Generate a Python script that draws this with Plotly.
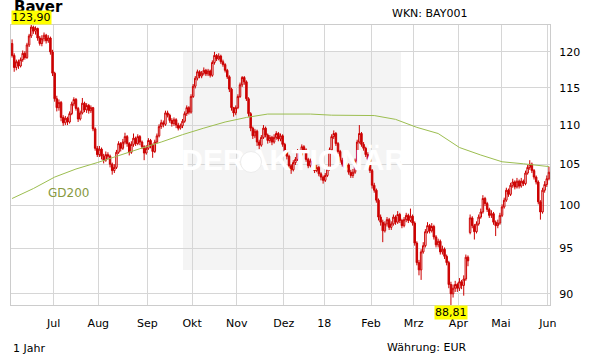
import math
import pandas as pd
import plotly.graph_objects as go

# ---------------- data ----------------
holidays = ["2017-10-31", "2017-12-25", "2017-12-26", "2018-01-01",
            "2018-03-30", "2018-04-02", "2018-05-01"]
trading_days = [d for d in pd.bdate_range("2017-06-05", "2018-06-01")
                if d.strftime("%Y-%m-%d") not in holidays]

opens = [
    121.2, 119.5, 117.8, 118.6, 118.0, 118.9, 119.8, 119.2, 121.0, 122.3,
    123.6, 123.0, 123.4, 122.0, 121.2, 121.9, 122.4, 121.6, 122.0, 120.0,
    117.0, 113.5, 112.3, 113.0, 111.0, 110.3, 110.9, 110.4, 111.5, 112.8,
    113.4, 112.2, 110.8, 111.6, 112.9, 112.0, 112.6, 111.9, 112.3, 109.5,
    107.0, 106.2, 106.9, 106.0, 105.5, 106.2, 106.0, 105.0, 104.2, 104.6,
    106.5, 107.6, 107.0, 107.8, 108.5, 107.6, 106.5, 107.5, 108.3, 107.6,
    108.5, 107.8, 107.2, 106.4, 107.0, 108.0, 107.4, 106.6, 107.8, 108.6,
    109.8, 110.3, 110.1, 111.6, 111.3, 110.6, 110.2, 110.7, 110.0, 109.6,
    109.9, 110.5, 111.5, 112.3, 111.7, 113.8, 115.2, 116.3, 117.2, 116.6,
    117.0, 117.4, 116.9, 117.3, 116.7, 118.5, 119.5, 119.0, 119.4, 118.6,
    118.2, 117.4, 116.5, 114.8, 112.3, 111.6, 112.3, 113.8, 115.4,
    116.4, 115.8, 113.5, 111.5, 109.6, 108.6, 109.2, 107.8, 107.4, 108.4,
    109.6, 108.7, 108.0, 108.4, 107.8, 108.4, 108.9, 108.2, 108.6, 107.5,
    106.6, 106.0, 104.8, 104.3, 105.2, 105.6, 106.6, 106.2, 107.2, 106.8,
    105.6, 104.8, 105.4, 104.9, 104.2, 104.6, 103.8, 103.4, 103.0, 103.6,
    104.4, 106.8, 108.5, 108.9, 107.6, 106.6, 105.5, 105.0, 104.6, 104.9,
    104.0, 103.6, 104.0, 105.4, 107.8, 108.9, 107.5, 107.0, 106.2, 105.6,
    104.2, 102.4, 101.8, 100.6, 98.6, 98.0, 97.0, 97.8, 98.3, 97.4,
    97.8, 98.6, 98.0, 98.9, 98.2, 97.6, 98.3, 98.8, 98.2, 98.7,
    97.9, 95.6, 93.4, 92.6, 94.6, 95.3, 96.9, 97.6, 97.0, 97.5,
    96.3, 95.4, 95.8, 94.6, 94.9, 94.1, 93.4, 91.0, 90.0, 90.6,
    91.0, 90.6, 91.3, 90.9, 91.6, 94.0, 96.8, 98.5, 97.6, 96.9,
    97.8, 98.6, 99.2, 100.8, 100.2, 99.5, 98.8, 99.0, 98.0, 97.6,
    97.9, 98.8, 99.8, 100.6, 101.8, 101.3, 102.4, 102.8, 102.2, 102.9,
    102.3, 102.9, 102.6, 103.9, 104.6, 105.0, 104.2, 103.4, 102.8, 100.4,
    99.2, 101.8, 102.5, 103.2,
]
highs = [
    121.8, 119.8, 118.9, 118.9, 119.2, 120.2, 120.1, 121.3, 122.6, 123.9,
    123.8, 123.7, 123.5, 122.3, 122.4, 122.8, 122.6, 122.4, 122.2, 120.3,
    117.2, 113.9, 113.4, 113.2, 111.3, 111.2, 111.1, 111.8, 113.1, 113.7,
    113.6, 112.4, 111.9, 113.6, 113.1, 112.9, 112.8, 112.6, 112.4, 109.7,
    107.3, 107.3, 107.1, 106.3, 106.6, 106.5, 106.2, 105.2, 105.0, 106.8,
    107.9, 107.8, 108.2, 109.0, 108.7, 107.8, 107.9, 108.9, 108.5, 108.8,
    108.7, 108.0, 107.4, 107.4, 108.3, 108.2, 107.6, 108.1, 108.9, 110.1,
    110.7, 110.6, 111.9, 111.9, 111.5, 110.9, 111.0, 110.9, 110.3, 110.2,
    110.8, 111.8, 112.6, 112.5, 114.1, 115.5, 116.6, 117.5, 117.4, 117.3,
    117.8, 117.6, 117.6, 117.5, 118.8, 120.0, 119.7, 119.8, 119.6, 118.9,
    118.4, 117.6, 116.7, 115.0, 112.4, 112.6, 114.1, 115.7, 116.6,
    116.6, 116.0, 113.7, 111.7, 109.8, 109.5, 109.4, 108.1, 108.7, 110.0,
    109.8, 108.9, 108.7, 108.6, 108.8, 109.2, 109.1, 108.9, 108.8, 107.7,
    106.8, 106.2, 105.0, 105.5, 105.9, 106.9, 106.8, 107.5, 107.4, 107.0,
    105.8, 105.7, 105.6, 105.1, 104.9, 104.8, 104.0, 103.6, 103.9, 104.7,
    107.1, 108.8, 109.3, 109.1, 107.8, 106.8, 105.8, 105.3, 105.2, 105.1,
    104.3, 104.4, 105.7, 108.1, 110.0, 109.1, 107.8, 107.2, 106.5, 105.8,
    104.4, 102.7, 102.0, 100.8, 98.9, 98.3, 98.1, 98.6, 98.5, 98.1,
    98.9, 98.8, 99.3, 99.1, 98.4, 98.6, 99.1, 99.0, 99.6, 98.9,
    98.1, 95.8, 93.7, 94.9, 95.7, 97.2, 98.0, 97.8, 97.9, 97.7,
    96.5, 96.1, 96.0, 95.3, 95.1, 94.3, 93.6, 91.3, 91.0, 91.4,
    91.2, 91.7, 91.5, 92.0, 94.3, 94.2, 98.9, 98.7, 97.8, 98.1,
    98.9, 99.6, 101.2, 101.0, 100.4, 99.7, 99.4, 99.2, 98.2, 98.3,
    99.1, 100.1, 100.9, 102.1, 102.0, 102.7, 103.2, 103.0, 103.3, 103.1,
    103.3, 103.1, 104.2, 104.9, 105.5, 105.2, 104.4, 103.6, 103.0, 100.6,
    102.1, 102.9, 103.6, 104.7,
]
lows = [
    119.2, 117.2, 117.4, 117.6, 117.8, 118.6, 118.9, 119.0, 120.7, 122.0,
    122.6, 122.5, 121.6, 120.9, 120.8, 121.5, 121.2, 121.3, 119.6, 116.6,
    113.1, 111.8, 111.9, 110.5, 109.9, 110.0, 110.0, 110.2, 111.3, 112.5,
    111.9, 110.4, 110.6, 111.4, 111.7, 111.6, 111.5, 111.6, 109.2, 106.7,
    105.9, 105.9, 105.6, 105.1, 105.3, 105.6, 104.6, 103.7, 103.9, 104.4,
    106.3, 106.6, 106.8, 107.5, 107.2, 106.1, 106.3, 107.2, 107.3, 107.4,
    107.4, 106.9, 105.5, 106.2, 106.8, 107.0, 105.8, 106.4, 107.6, 108.4,
    109.5, 109.7, 109.9, 111.0, 110.3, 109.8, 109.9, 109.6, 109.3, 109.4,
    109.6, 110.3, 111.2, 111.4, 111.5, 113.6, 114.9, 116.0, 116.3, 116.3,
    116.7, 116.6, 116.6, 116.4, 116.5, 118.2, 118.7, 118.8, 118.3, 117.9,
    117.1, 116.2, 114.4, 111.9, 111.1, 111.3, 112.1, 113.6, 115.1,
    115.4, 113.2, 111.1, 109.2, 108.2, 108.3, 107.3, 106.9, 107.2, 108.2,
    108.4, 107.6, 107.7, 107.4, 107.6, 108.1, 107.9, 107.9, 107.2, 106.3,
    105.6, 104.4, 103.8, 104.1, 104.9, 105.4, 105.9, 106.0, 106.5, 105.3,
    104.5, 104.6, 104.6, 103.9, 104.0, 103.5, 103.0, 102.6, 102.8, 103.4,
    104.2, 106.6, 108.2, 107.3, 106.3, 105.2, 104.7, 104.3, 104.3, 103.7,
    103.3, 103.3, 103.8, 105.2, 107.6, 107.2, 106.7, 105.9, 105.3, 103.9,
    102.0, 101.5, 100.3, 98.2, 97.6, 95.7, 96.8, 97.5, 97.1, 97.1,
    97.6, 97.7, 97.8, 97.9, 97.3, 97.4, 98.0, 97.9, 98.0, 97.6,
    95.3, 93.1, 92.0, 91.5, 94.4, 95.1, 96.7, 96.7, 96.8, 96.0,
    95.1, 95.1, 94.3, 94.3, 93.8, 93.1, 90.6, 88.81, 89.6, 90.2,
    90.2, 90.3, 90.5, 89.8, 91.4, 93.0, 96.6, 97.3, 96.0, 96.7,
    97.6, 98.4, 99.0, 99.9, 99.2, 98.5, 98.5, 97.7, 96.4, 97.3,
    97.7, 98.6, 99.6, 100.4, 101.0, 101.1, 102.1, 101.9, 102.0, 102.0,
    102.1, 102.3, 102.4, 103.7, 104.3, 103.9, 103.1, 102.5, 100.1, 98.3,
    99.0, 101.5, 102.2, 103.0,
]
closes = [
    119.5, 117.8, 118.6, 118.0, 118.9, 119.8, 119.2, 121.0, 122.3, 123.6,
    123.0, 123.4, 122.0, 121.2, 121.9, 122.4, 121.6, 122.0, 120.0, 117.0,
    113.5, 112.3, 113.0, 111.0, 110.3, 110.9, 110.4, 111.5, 112.8, 113.4,
    112.2, 110.8, 111.6, 112.9, 112.0, 112.6, 111.9, 112.3, 109.5, 107.0,
    106.2, 106.9, 106.0, 105.5, 106.2, 106.0, 105.0, 104.2, 104.6, 106.5,
    107.6, 107.0, 107.8, 108.5, 107.6, 106.5, 107.5, 108.3, 107.6, 108.5,
    107.8, 107.2, 106.4, 107.0, 108.0, 107.4, 106.6, 107.8, 108.6, 109.8,
    110.3, 110.1, 111.6, 111.3, 110.6, 110.2, 110.7, 110.0, 109.6, 109.9,
    110.5, 111.5, 112.3, 111.7, 113.8, 115.2, 116.3, 117.2, 116.6, 117.0,
    117.4, 116.9, 117.3, 116.7, 118.5, 119.5, 119.0, 119.4, 118.6, 118.2,
    117.4, 116.5, 114.8, 112.3, 111.6, 112.3, 113.8, 115.4, 116.4,
    115.8, 113.5, 111.5, 109.6, 108.6, 109.2, 107.8, 107.4, 108.4, 109.6,
    108.7, 108.0, 108.4, 107.8, 108.4, 108.9, 108.2, 108.6, 107.5, 106.6,
    106.0, 104.8, 104.3, 105.2, 105.6, 106.6, 106.2, 107.2, 106.8, 105.6,
    104.8, 105.4, 104.9, 104.2, 104.6, 103.8, 103.4, 103.0, 103.6, 104.4,
    106.8, 108.5, 108.9, 107.6, 106.6, 105.5, 105.0, 104.6, 104.9, 104.0,
    103.6, 104.0, 105.4, 107.8, 108.9, 107.5, 107.0, 106.2, 105.6, 104.2,
    102.4, 101.8, 100.6, 98.6, 98.0, 97.0, 97.8, 98.3, 97.4, 97.8,
    98.6, 98.0, 98.9, 98.2, 97.6, 98.3, 98.8, 98.2, 98.7, 97.9,
    95.6, 93.4, 92.6, 94.6, 95.3, 96.9, 97.6, 97.0, 97.5, 96.3,
    95.4, 95.8, 94.6, 94.9, 94.1, 93.4, 91.0, 90.0, 90.6, 91.0,
    90.6, 91.3, 90.9, 91.6, 94.0, 93.6, 98.5, 97.6, 96.9, 97.8,
    98.6, 99.2, 100.8, 100.2, 99.5, 98.8, 99.0, 98.0, 97.6, 97.9,
    98.8, 99.8, 100.6, 101.8, 101.3, 102.4, 102.8, 102.2, 102.9, 102.3,
    102.9, 102.6, 103.9, 104.6, 105.0, 104.2, 103.4, 102.8, 100.4, 99.2,
    101.8, 102.5, 103.2, 104.0,
]

gd200_days = [0, 10, 20, 30, 40, 50, 60, 70, 80, 90, 100, 110, 120,
              130, 140, 150, 160, 170, 180, 190, 200, 210, 220, 230, 240, 252]
gd200_values = [100.8, 102.0, 103.4, 104.4, 105.2, 106.1, 106.95, 107.8,
                108.75, 109.6, 110.4, 111.0, 111.45, 111.45, 111.45, 111.3,
                111.3, 111.25, 110.75, 109.7, 108.9, 107.1, 106.15, 105.3,
                105.05, 104.7]

month_labels = ["Jul", "Aug", "Sep", "Okt", "Nov", "Dez", "18",
                "Feb", "Mrz", "Apr", "Mai", "Jun"]
y_ticks = [90, 95, 100, 105, 110, 115, 120]

title_text = "Bayer"
wkn_text = "WKN: BAY001"
period_text = "1 Jahr"
currency_text = "Währung: EUR"

# ---------------- derived ----------------
n = len(trading_days)
xs = list(range(n))
month_start = []
prev = None
for i, d in enumerate(trading_days):
    key = (d.year, d.month)
    if prev is not None and key != prev:
        month_start.append(i - 0.5)
    prev = key

y_max = max(highs)
y_min = min(lows)
i_max = highs.index(y_max)
i_min = lows.index(y_min)

def fmt(v):
    return f"{v:.2f}".replace(".", ",")

RED = "#cc0000"
GRID = "#d6d6d6"
FONT = "DejaVu Sans, Verdana, sans-serif"

W, H = 611, 364
L, R, T, B = 11, 61, 25, 59
PW, PH = W - L - R, H - T - B
x_range = [-0.5, n - 0.5]
y_range = [math.log10(y_min), math.log10(y_max)]

def px_to_x(px):
    return x_range[0] + (px - L) / PW * (x_range[1] - x_range[0])

def py_to_y(py):
    frac = (T + PH - py) / PH
    return 10 ** (y_range[0] + frac * (y_range[1] - y_range[0]))

def pap_x(px):
    return (px - L) / PW

def pap_y(py):
    return (T + PH - py) / PH

fig = go.Figure()

# watermark (drawn in trace layer so candles sit on top)
fig.add_trace(go.Scatter(
    x=[px_to_x(213), px_to_x(327)], y=[py_to_y(162), py_to_y(162)],
    mode="text", text=["<b>DER</b>", "<b>AKTIONÄR</b>"],
    textfont=dict(color="#ffffff", size=30,
                  family="Liberation Sans Narrow, Liberation Sans, Arial"),
    hoverinfo="skip", showlegend=False))
fig.add_trace(go.Scatter(
    x=[px_to_x(251)], y=[py_to_y(162)], mode="markers",
    marker=dict(symbol="circle", size=21, color="#ffffff",
                line=dict(color="#ececec", width=1)),
    hoverinfo="skip", showlegend=False))

fig.add_trace(go.Candlestick(
    x=xs, open=opens, high=highs, low=lows, close=closes,
    increasing=dict(line=dict(color=RED, width=1), fillcolor="rgba(0,0,0,0)"),
    decreasing=dict(line=dict(color=RED, width=1), fillcolor=RED),
    whiskerwidth=0, showlegend=False, hoverinfo="skip"))

fig.add_trace(go.Scatter(
    x=gd200_days, y=gd200_values, mode="lines",
    line=dict(color="#9cbe50", width=1), showlegend=False,
    hoverinfo="skip"))

# light grey panel behind watermark
fig.add_shape(type="rect", xref="paper", yref="paper",
              x0=pap_x(183), x1=pap_x(401), y0=pap_y(270), y1=pap_y(52),
              fillcolor="#f4f4f4", line_width=0, layer="below")

annotations = [
    dict(text=f"<b>{title_text}</b>", xref="paper", yref="paper",
         x=pap_x(12), y=pap_y(-4), xanchor="left", yanchor="top",
         showarrow=False, font=dict(family=FONT, size=15, color="#000")),
    dict(text=fmt(y_max), xref="paper", yref="paper",
         x=pap_x(11), y=1, xanchor="left", yanchor="bottom",
         showarrow=False, bgcolor="#ffff00", borderpad=0,
         font=dict(family=FONT, size=11, color="#000")),
    dict(text=fmt(y_min), xref="x", yref="paper",
         x=i_min, y=0, xanchor="center", yanchor="top",
         showarrow=False, bgcolor="#ffff00", borderpad=0,
         font=dict(family=FONT, size=11, color="#000")),
    dict(text=wkn_text, xref="paper", yref="paper",
         x=pap_x(469), y=pap_y(14), xanchor="right", yanchor="middle",
         showarrow=False, font=dict(family=FONT, size=11, color="#000")),
    dict(text=period_text, xref="paper", yref="paper",
         x=pap_x(11), y=pap_y(348), xanchor="left", yanchor="middle",
         showarrow=False, font=dict(family=FONT, size=11, color="#000")),
    dict(text=currency_text, xref="paper", yref="paper",
         x=pap_x(469), y=pap_y(347), xanchor="right", yanchor="middle",
         showarrow=False, font=dict(family=FONT, size=11, color="#000")),
    dict(text="GD200", xref="paper", yref="paper",
         x=pap_x(46), y=pap_y(193), xanchor="left", yanchor="middle",
         showarrow=False, font=dict(family=FONT, size=12, color="#87993f")),
]

fig.update_layout(
    width=W, height=H,
    margin=dict(l=L, r=R, t=T, b=B, pad=0),
    paper_bgcolor="#ffffff", plot_bgcolor="#ffffff",
    showlegend=False, annotations=annotations,
    boxgap=0,
    font=dict(family=FONT, size=11, color="#000"),
    xaxis=dict(range=x_range, tickmode="array", tickvals=month_start,
               ticktext=month_labels, showgrid=True, gridcolor=GRID,
               gridwidth=1, showline=True, linecolor="#cccccc", mirror=True,
               ticks="", ticklabelstandoff=8, zeroline=False,
               rangeslider=dict(visible=False), fixedrange=True,
               automargin=False,
               tickfont=dict(family=FONT, size=11, color="#000")),
    yaxis=dict(type="log", range=y_range, side="right", tickmode="array",
               tickvals=y_ticks, ticktext=[str(v) for v in y_ticks],
               showgrid=True, gridcolor=GRID, gridwidth=1, showline=True,
               linecolor="#cccccc", mirror=True, ticks="",
               ticklabelstandoff=6, zeroline=False, fixedrange=True,
               automargin=False,
               tickfont=dict(family=FONT, size=11, color="#000")),
)

fig.write_html("out.html", config={"displayModeBar": False},
               post_script="document.body.style.margin='0px';"
                           "document.body.style.overflow='hidden';")
